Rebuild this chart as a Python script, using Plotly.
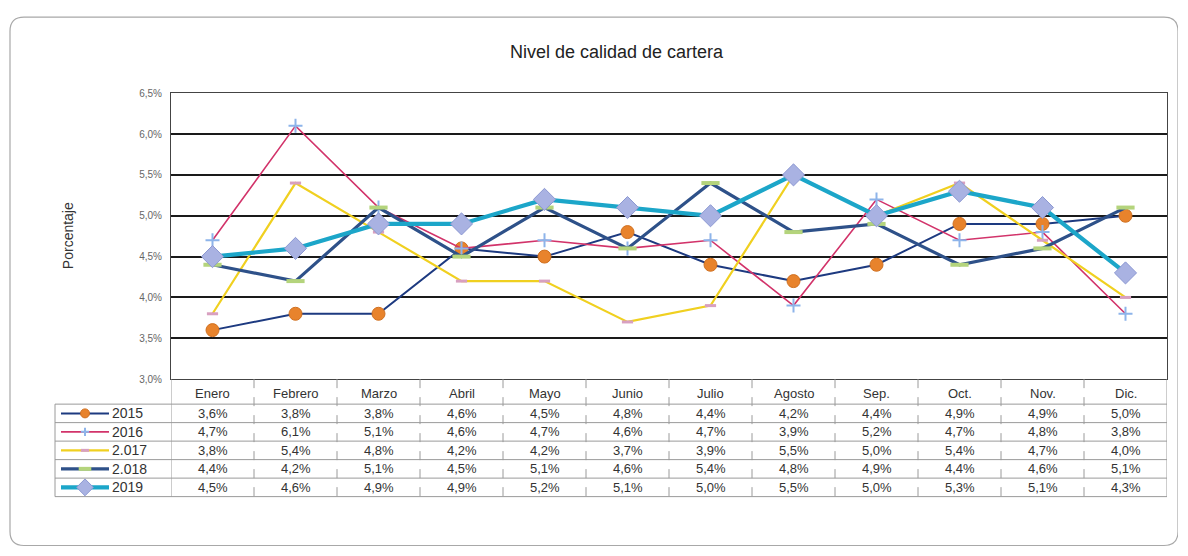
import plotly.graph_objects as go

# ---------------- data ----------------
months = ["Enero", "Febrero", "Marzo", "Abril", "Mayo", "Junio",
          "Julio", "Agosto", "Sep.", "Oct.", "Nov.", "Dic."]
series_names = ["2015", "2016", "2.017", "2.018", "2019"]
v2015 = [3.6, 3.8, 3.8, 4.6, 4.5, 4.8, 4.4, 4.2, 4.4, 4.9, 4.9, 5.0]
v2016 = [4.7, 6.1, 5.1, 4.6, 4.7, 4.6, 4.7, 3.9, 5.2, 4.7, 4.8, 3.8]
v2017 = [3.8, 5.4, 4.8, 4.2, 4.2, 3.7, 3.9, 5.5, 5.0, 5.4, 4.7, 4.0]
v2018 = [4.4, 4.2, 5.1, 4.5, 5.1, 4.6, 5.4, 4.8, 4.9, 4.4, 4.6, 5.1]
v2019 = [4.5, 4.6, 4.9, 4.9, 5.2, 5.1, 5.0, 5.5, 5.0, 5.3, 5.1, 4.3]
tick_vals = [3.0, 3.5, 4.0, 4.5, 5.0, 5.5, 6.0, 6.5]
tick_text = ["3,0%", "3,5%", "4,0%", "4,5%", "5,0%", "5,5%", "6,0%", "6,5%"]
title_text = "Nivel de calidad de cartera"
y_title = "Porcentaje"

all_values = [v2015, v2016, v2017, v2018, v2019]

# ---------------- styles ----------------
styles = [
    dict(line=dict(color="#1d3a80", width=2),
         marker=dict(symbol="circle", size=13, color="#e8832c",
                     line=dict(color="#d07020", width=1))),
    dict(line=dict(color="#d2336a", width=1.6),
         marker=dict(symbol="cross-thin", size=10, color="#8db4ea",
                     line=dict(color="#8db4ea", width=2))),
    dict(line=dict(color="#f0d020", width=2.2),
         marker=dict(symbol="line-ew", size=8, color="#d8a0c0",
                     line=dict(color="#d8a0c0", width=3))),
    dict(line=dict(color="#2e5189", width=3.2),
         marker=dict(symbol="line-ew", size=13, color="#b4d47c",
                     line=dict(color="#b4d47c", width=4))),
    dict(line=dict(color="#1ca6c9", width=4.2),
         marker=dict(symbol="diamond", size=17, color="#a9b2e2",
                     line=dict(color="#8c98d2", width=1))),
]

# screen mapping: screen_x = OX + fig_x ; screen_y = AY + SY * fig_y
OX = 8
AY, SY = 12.8, 0.98
W, H = 1170, 545
PLOT_L, PLOT_R, PLOT_T, PLOT_B = 171, 1167, 93, 379
HDR_B = 404
ROW_H = 18.5
TABLE_L = 55
FONT = "Liberation Sans, Arial, sans-serif"
TXT = "#333333"
GRID_TBL = "#9a9a9a"


def fy(t):
    """figure pixel row for a target screen row"""
    return (t - AY) / SY


fig = go.Figure()

# main data lines
for name, vals, st in zip(series_names, all_values, styles):
    fig.add_trace(go.Scatter(
        x=months, y=vals, name=name, mode="lines+markers",
        line=st["line"], marker=st["marker"],
        xaxis="x", yaxis="y", showlegend=False, cliponaxis=False))

# legend swatches inside table (screen-coordinate overlay axes x2/y2)
SW_X0, SW_X1 = 61, 109
for k, (name, st) in enumerate(zip(series_names, styles)):
    yc = HDR_B + ROW_H * (k + 0.5)
    fig.add_trace(go.Scatter(
        x=[SW_X0, SW_X1], y=[yc, yc], mode="lines", line=st["line"],
        xaxis="x2", yaxis="y2", showlegend=False, hoverinfo="skip"))
    m = dict(st["marker"])
    m["size"] = max(6, m["size"] - 4)
    fig.add_trace(go.Scatter(
        x=[(SW_X0 + SW_X1) / 2], y=[yc], mode="markers", marker=m,
        xaxis="x2", yaxis="y2", showlegend=False, hoverinfo="skip"))

shapes = []
annotations = []

# outer rounded border
y_max = AY + SY * H
x0, y0, x1, y1, r = 10, 17, 1178, min(549, y_max - 1.5), 14
path = (f"M {x0+r},{y0} L {x1-r},{y0} Q {x1},{y0} {x1},{y0+r} "
        f"L {x1},{y1-r} Q {x1},{y1} {x1-r},{y1} L {x0+r},{y1} "
        f"Q {x0},{y1} {x0},{y1-r} L {x0},{y0+r} Q {x0},{y0} {x0+r},{y0} Z")
shapes.append(dict(type="path", path=path, xref="x2", yref="y2",
                   line=dict(color="#a8a8a8", width=1.2), layer="below"))

# table: horizontal lines
n_rows = len(series_names)
TABLE_B = HDR_B + ROW_H * n_rows
for k in range(n_rows + 1):
    yy = HDR_B + ROW_H * k
    shapes.append(dict(type="line", xref="x2", yref="y2", x0=TABLE_L, x1=PLOT_R,
                       y0=yy, y1=yy, line=dict(color=GRID_TBL, width=1)))
# table: vertical lines
shapes.append(dict(type="line", xref="x2", yref="y2", x0=TABLE_L, x1=TABLE_L,
                   y0=HDR_B, y1=TABLE_B, line=dict(color=GRID_TBL, width=1)))
for i in range(len(months) + 1):
    shapes.append(dict(type="line", xref="x", yref="y2", x0=i - 0.5, x1=i - 0.5,
                       y0=PLOT_B, y1=TABLE_B,
                       line=dict(color=GRID_TBL, width=1,
                                 dash="solid" if i in (0, len(months)) else "dash")))

# header labels
for i, mname in enumerate(months):
    annotations.append(dict(x=i, y=(PLOT_B + HDR_B) / 2 + 2, xref="x", yref="y2",
                            text=mname, showarrow=False,
                            font=dict(family=FONT, size=13, color=TXT)))
# data cells
for k, vals in enumerate(all_values):
    yc = HDR_B + ROW_H * (k + 0.5)
    for i, v in enumerate(vals):
        annotations.append(dict(x=i, y=yc, xref="x", yref="y2",
                                text=f"{v:.1f}%".replace(".", ","), showarrow=False,
                                font=dict(family=FONT, size=13, color=TXT)))
    annotations.append(dict(x=SW_X1 + 1, y=yc, xref="x2", yref="y2", xanchor="left",
                            text=series_names[k], showarrow=False,
                            font=dict(family=FONT, size=14, color=TXT)))

# title and axis title
annotations.append(dict(x=617, y=52, xref="x2", yref="y2",
                        text=title_text, showarrow=False,
                        font=dict(family=FONT, size=18, color="#222222")))
annotations.append(dict(x=68, y=(PLOT_T + PLOT_B) / 2, xref="x2", yref="y2",
                        text=y_title, showarrow=False, textangle=-90,
                        font=dict(family=FONT, size=14, color=TXT)))

fig.update_layout(
    width=W, height=H,
    margin=dict(l=0, r=0, t=0, b=0),
    paper_bgcolor="white", plot_bgcolor="rgba(0,0,0,0)",
    font=dict(family=FONT),
    xaxis=dict(domain=[(PLOT_L - OX) / W, (PLOT_R - OX) / W], type="category",
               categoryorder="array", categoryarray=months,
               range=[-0.5, len(months) - 0.5], showticklabels=False,
               showgrid=False, zeroline=False, showline=True, mirror=True,
               linecolor="#444444", linewidth=1, anchor="y", ticks=""),
    yaxis=dict(domain=[1 - fy(PLOT_B) / H, 1 - fy(PLOT_T) / H], range=[3.0, 6.5],
               tickvals=tick_vals, ticktext=tick_text,
               tickfont=dict(family=FONT, size=10, color="#666666"),
               showgrid=True, gridcolor="#1a1a1a", gridwidth=1.8,
               zeroline=False, showline=True, mirror=True,
               linecolor="#444444", linewidth=1, anchor="x", ticks="",
               ticklabelstandoff=6),
    xaxis2=dict(domain=[0, 1], range=[OX, OX + W], visible=False, anchor="y2"),
    yaxis2=dict(domain=[0, 1], range=[y_max, AY], visible=False, anchor="x2"),
    shapes=shapes, annotations=annotations,
    showlegend=False,
)

fig.write_html("out.html")
